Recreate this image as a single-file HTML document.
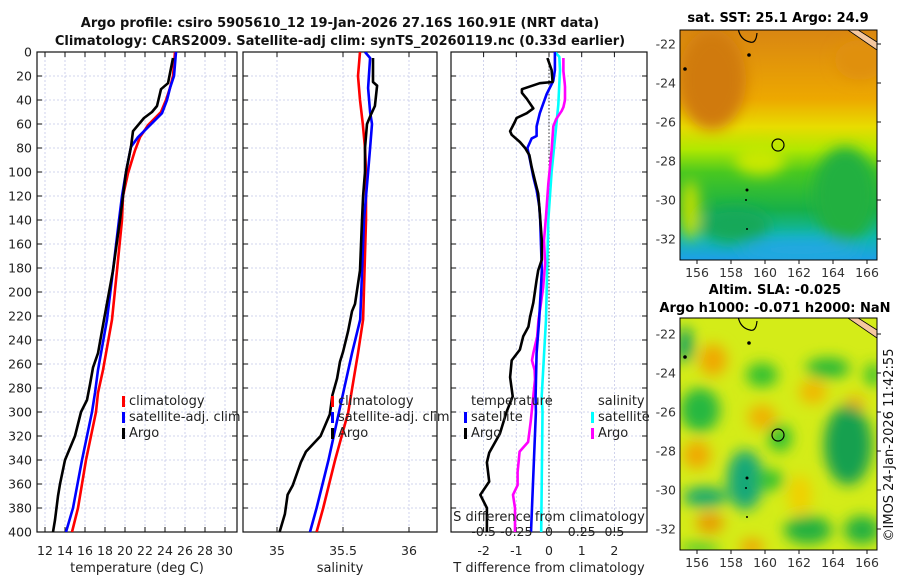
<!DOCTYPE html>
<html><head><meta charset="utf-8">
<style>
html,body{margin:0;padding:0;background:#fff;}
svg{display:block;font-family:"DejaVu Sans","Liberation Sans",sans-serif;}
</style></head>
<body>
<svg id="fig" width="900" height="580" viewBox="0 0 900 580" xmlns="http://www.w3.org/2000/svg">
<defs>
 <clipPath id="c1"><rect x="37" y="52" width="200" height="480"/></clipPath>
 <clipPath id="c2"><rect x="243" y="52" width="194" height="480"/></clipPath>
 <clipPath id="c3"><rect x="451" y="52" width="196" height="480"/></clipPath>
 <clipPath id="cm1"><rect x="680" y="30" width="197" height="230"/></clipPath>
 <clipPath id="cm2"><rect x="680" y="318" width="197" height="232"/></clipPath>
 <filter id="blur" x="-50%" y="-50%" width="200%" height="200%"><feGaussianBlur stdDeviation="7"/></filter>
 <linearGradient id="sstg" x1="0" y1="0" x2="0" y2="1">
  <stop offset="0" stop-color="#d98612"/><stop offset="0.3" stop-color="#eda800"/>
  <stop offset="0.42" stop-color="#e8dc00"/><stop offset="0.52" stop-color="#b0e800"/>
  <stop offset="0.62" stop-color="#48c820"/><stop offset="0.78" stop-color="#18b048"/>
  <stop offset="0.9" stop-color="#10b8b0"/><stop offset="1" stop-color="#1ea0e8"/>
 </linearGradient>
</defs>

<g font-weight="bold" font-size="13" text-anchor="middle" fill="#111">
 <text x="340" y="27">Argo profile: csiro 5905610_12 19-Jan-2026 27.16S 160.91E (NRT data)</text>
 <text x="340" y="45">Climatology: CARS2009. Satellite-adj clim: synTS_20260119.nc (0.33d earlier)</text>
</g>

<g id="panels"></g>

<g>
 <text x="778" y="22" font-size="13" font-weight="bold" text-anchor="middle">sat. SST: 25.1 Argo: 24.9</text>
 <g clip-path="url(#cm1)">
  <rect x="680" y="30" width="197" height="230" fill="url(#sstg)"/>
  <g filter="url(#blur)">
   <ellipse cx="712" cy="80" rx="34" ry="50" fill="#d07a10"/>
   <ellipse cx="860" cy="60" rx="25" ry="20" fill="#e09010"/>
   <ellipse cx="845" cy="195" rx="32" ry="48" fill="#20b040"/>
   <ellipse cx="690" cy="210" rx="10" ry="30" fill="#c0e000"/>
   <ellipse cx="735" cy="225" rx="35" ry="18" fill="#18a858"/>
   <ellipse cx="760" cy="160" rx="25" ry="15" fill="#c8e800"/>
   <ellipse cx="800" cy="250" rx="60" ry="12" fill="#20a8e0"/>
  </g>
  <path d="M738 28 Q740 40 750 42 Q756 44 757 33" fill="none" stroke="#000" stroke-width="1.2"/>
  <path d="M845 28 L877 50 L877 42 L855 28 Z" fill="#f5c8a0" stroke="#000" stroke-width="0.8"/>
  <circle cx="685" cy="69" r="1.8" fill="#000"/><circle cx="749" cy="55" r="1.8" fill="#000"/>
  <circle cx="747" cy="190" r="1.5" fill="#000"/><circle cx="746" cy="200" r="1" fill="#000"/><circle cx="747" cy="229" r="1" fill="#000"/>
 </g>
 <rect x="680" y="30" width="197" height="230" fill="none" stroke="#000" stroke-width="1"/>
 <g id="map1axes"></g>
 <circle cx="778" cy="145" r="6" fill="none" stroke="#000" stroke-width="1.2"/>
</g>

<g>
 <text x="775" y="294" font-size="13" font-weight="bold" text-anchor="middle">Altim. SLA: -0.025</text>
 <text x="775" y="312" font-size="13" font-weight="bold" text-anchor="middle">Argo h1000: -0.071 h2000: NaN</text>
 <g clip-path="url(#cm2)">
  <rect x="680" y="318" width="197" height="232" fill="#d4ec18"/>
  <g filter="url(#blur)">
   <ellipse cx="713" cy="360" rx="14" ry="16" fill="#f0a800"/>
   <ellipse cx="762" cy="417" rx="14" ry="12" fill="#f0b000"/>
   <ellipse cx="813" cy="392" rx="14" ry="12" fill="#f0b800"/>
   <ellipse cx="855" cy="403" rx="10" ry="8" fill="#f0b000"/>
   <ellipse cx="697" cy="455" rx="14" ry="14" fill="#f0a800"/>
   <ellipse cx="710" cy="523" rx="14" ry="10" fill="#e89800"/>
   <ellipse cx="752" cy="547" rx="12" ry="8" fill="#f0a000"/>
   <ellipse cx="800" cy="495" rx="12" ry="20" fill="#f0d000"/>
   <ellipse cx="685" cy="345" rx="8" ry="18" fill="#10a060"/>
   <ellipse cx="762" cy="375" rx="16" ry="12" fill="#30c030"/>
   <ellipse cx="828" cy="368" rx="22" ry="10" fill="#28b838"/>
   <ellipse cx="873" cy="375" rx="8" ry="12" fill="#30c030"/>
   <ellipse cx="700" cy="410" rx="20" ry="22" fill="#28b840"/>
   <ellipse cx="848" cy="445" rx="24" ry="40" fill="#18a050"/>
   <ellipse cx="780" cy="438" rx="12" ry="14" fill="#30c030"/>
   <ellipse cx="745" cy="480" rx="18" ry="30" fill="#18a878"/>
   <ellipse cx="770" cy="480" rx="14" ry="10" fill="#30c030"/>
   <ellipse cx="705" cy="497" rx="22" ry="10" fill="#18a870"/>
   <ellipse cx="808" cy="530" rx="24" ry="14" fill="#20b040"/>
   <ellipse cx="862" cy="530" rx="18" ry="14" fill="#20b040"/>
   <ellipse cx="700" cy="548" rx="20" ry="5" fill="#30c030"/>
  </g>
  <path d="M738 316 Q740 328 750 330 Q756 332 757 321" fill="none" stroke="#000" stroke-width="1.2"/>
  <path d="M845 316 L877 338 L877 330 L855 316 Z" fill="#f5c8a0" stroke="#000" stroke-width="0.8"/>
  <circle cx="685" cy="357" r="1.8" fill="#000"/><circle cx="749" cy="343" r="1.8" fill="#000"/>
  <circle cx="747" cy="478" r="1.5" fill="#000"/><circle cx="746" cy="488" r="1" fill="#000"/><circle cx="747" cy="517" r="1" fill="#000"/>
 </g>
 <rect x="680" y="318" width="197" height="232" fill="none" stroke="#000" stroke-width="1"/>
 <g id="map2axes"></g>
 <circle cx="778" cy="435" r="6" fill="none" stroke="#000" stroke-width="1.2"/>
</g>

<text transform="translate(893,445) rotate(-90)" font-size="13" text-anchor="middle" fill="#111">©IMOS 24-Jan-2026 11:42:55</text>
</svg>

<script>
const depthTicks = [0,20,40,60,80,100,120,140,160,180,200,220,240,260,280,300,320,340,360,380,400];
const tempTicks = [12,14,16,18,20,22,24,26,28,30];
const salTicks = [35, 35.5, 36];
const salTickLabels = ["35","35.5","36"];
const tdiffTicks = [-2,-1,0,1,2];
const sdiffTicks = [-0.5,-0.25,0,0.25,0.5];
const sdiffTickLabels = ["-0.5","-0.25","0","0.25","0.5"];

const tClimDepth = [0,20,30,40,50,61,71,82,101,120,140,182,223,265,284,300,340,380,400];
const tClimVal   = [25.0,24.8,24.5,24.1,23.6,22.3,21.5,21.0,20.3,19.8,19.7,19.2,18.7,17.8,17.3,17.1,16.1,15.3,14.7];
const tSatDepth  = [0,20,30,40,51,61,71,79,100,120,140,182,223,265,284,300,340,380,400];
const tSatVal    = [25.1,24.9,24.5,24.2,23.7,22.5,21.3,20.6,20.1,19.7,19.4,18.8,18.2,17.3,17.0,16.7,15.7,14.8,14.1];
const tArgoDepth = [5,26,31,45,50,55,66,79,100,120,140,182,223,251,263,277,290,300,320,340,360,370,390,400];
const tArgoVal   = [24.8,24.3,23.6,23.2,22.7,21.9,20.8,20.6,20.1,19.8,19.5,18.8,17.9,17.3,16.8,16.5,16.2,15.6,15.0,14.0,13.5,13.3,13.0,12.8];

const sClimDepth = [0,20,40,60,80,100,140,223,251,280,300,340,380,400];
const sClimVal   = [35.629,35.614,35.629,35.65,35.667,35.674,35.674,35.652,35.614,35.57,35.54,35.44,35.35,35.30];
const sSatDepth  = [0,5,30,50,60,80,100,140,223,251,280,300,340,380,400];
const sSatVal    = [35.667,35.705,35.69,35.705,35.72,35.705,35.69,35.659,35.63,35.568,35.51,35.47,35.39,35.30,35.25];
const sArgoDepth = [5,25,28,45,52,60,80,100,120,140,182,210,216,233,250,258,272,286,302,320,333,342,361,369,385,400];
const sArgoVal   = [35.727,35.727,35.758,35.742,35.712,35.682,35.667,35.667,35.652,35.644,35.629,35.591,35.568,35.538,35.50,35.477,35.455,35.42,35.40,35.33,35.22,35.18,35.12,35.08,35.06,35.02];

const dtSatDepth = [0,15,24,35,51,62,70,72,80,90,104,115,128,140,182,223,251,287,300,400];
const dtSatVal   = [0.18,0.18,0.13,-0.07,-0.28,-0.38,-0.38,-0.53,-0.66,-0.58,-0.48,-0.38,-0.30,-0.27,-0.22,-0.30,-0.38,-0.41,-0.40,-0.55];
const dtArgoDepth = [5,15,25,26,31,34,39,47,51,55,58,66,69,75,80,86,96,107,118,134,157,173,182,190,209,221,229,237,248,257,271,287,300,318,334,342,358,369,380,400];
const dtArgoVal   = [-0.05,0.08,0.11,-0.28,-0.83,-0.83,-0.68,-0.48,-0.68,-0.99,-1.04,-1.19,-1.14,-0.89,-0.73,-0.60,-0.53,-0.43,-0.33,-0.28,-0.22,-0.22,-0.33,-0.38,-0.48,-0.58,-0.63,-0.79,-0.89,-1.14,-1.19,-1.11,-1.3,-1.5,-1.83,-1.9,-1.83,-2.1,-1.9,-1.9];
const dsSatDepth = [0,4,15,44,72,100,140,223,287,300,400];
const dsSatVal   = [0.046,0.079,0.084,0.071,0.046,0.02,-0.005,-0.023,-0.056,-0.05,-0.06];
const dsArgoDepth = [5,16,26,29,40,46,49,56,62,82,110,137,157,176,196,215,223,237,251,257,265,273,308,325,333,350,361,369,380,400];
const dsArgoVal   = [0.11,0.11,0.12,0.122,0.122,0.11,0.097,0.054,0.033,0.02,-0.005,-0.023,-0.038,-0.03,-0.044,-0.069,-0.08,-0.09,-0.12,-0.13,-0.11,-0.107,-0.14,-0.16,-0.225,-0.24,-0.24,-0.275,-0.26,-0.26];

const lonTicks = [156,158,160,162,164,166];
const latTicks = [-22,-24,-26,-28,-30,-32];

const NS = "http://www.w3.org/2000/svg";
const yD = d => 52 + d * 1.2;
const xT = t => 45 + (t - 12) * 10;
const xS = s => 277 + (s - 35) * 132;
const xDT = v => 549 + v * 32.7;
const xDS = v => 549 + v * 130.8;
const lonX = lon => 765 + (lon - 160) * 17;
const latY1 = lat => 122 + (-26 - lat) * 19.5;
const latY2 = lat => 412 + (-26 - lat) * 19.5;
const LW = 2.6;

function mk(tag, attrs, parent) {
  const e = document.createElementNS(NS, tag);
  for (const k in attrs) e.setAttribute(k, attrs[k]);
  parent.appendChild(e);
  return e;
}
function txt(str, attrs, parent) { const e = mk('text', attrs, parent); e.textContent = str; return e; }

const root = document.getElementById('panels');

function panel(name, x0, w, clip, xTicksPos, xTickLabels, xlabel, xlabelX, showDepthLabels) {
  const g = mk('g', {}, root);
  
  
  const grid = mk('g', {stroke: '#c4c8e8', 'stroke-width': 0.8, 'stroke-dasharray': '2,2'}, g);
  
  
  depthTicks.forEach(d => mk('line', {x1: x0, x2: x0 + w, y1: yD(d), y2: yD(d)}, grid));
  xTicksPos.forEach(px => mk('line', {x1: px, x2: px, y1: 52, y2: 532}, grid));
  mk('rect', {x: x0, y: 52, width: w, height: 480, fill: 'none', stroke: '#111', 'stroke-width': 1.2}, g);
  const ticks = mk('g', {stroke: '#111', 'stroke-width': 1}, g);
  depthTicks.forEach(d => {
    mk('line', {x1: x0, x2: x0 + 5, y1: yD(d), y2: yD(d)}, ticks);
    mk('line', {x1: x0 + w - 5, x2: x0 + w, y1: yD(d), y2: yD(d)}, ticks);
  });
  xTicksPos.forEach(px => {
    mk('line', {x1: px, x2: px, y1: 532, y2: 527}, ticks);
    mk('line', {x1: px, x2: px, y1: 52, y2: 57}, ticks);
  });
  const tl = mk('g', {'font-size': 12.5, fill: '#222', 'text-anchor': 'middle'}, g);
  
  
  xTicksPos.forEach((px, i) => txt(xTickLabels[i], {x: px, y: 555}, tl));
  const xl = txt(xlabel, {x: xlabelX, y: 572, 'font-size': 13, 'text-anchor': 'middle', fill: '#222'}, g);
  
  
  if (showDepthLabels) {
    const yl = mk('g', {'font-size': 12.5, fill: '#222', 'text-anchor': 'end'}, g);
    
    
    depthTicks.forEach(d => txt(String(d), {x: 32, y: yD(d) + 4.5}, yl));
  }
  return mk('g', {'clip-path': 'url(#' + clip + ')'}, g);
}

function line(parent, name, depths, vals, xf, color) {
  const pts = depths.map((d, i) => xf(vals[i]).toFixed(1) + ',' + yD(d).toFixed(1)).join(' ');
  const p = mk('polyline', {points: pts, fill: 'none', stroke: color, 'stroke-width': LW, 'stroke-linejoin': 'round'}, parent);
  
  
}

function legend(parent, name, x, y, items) {
  const g = mk('g', {'font-size': 13, fill: '#222'}, parent);
  
  
  items.forEach((it, i) => {
    if (it[1]) mk('rect', {x: x, y: y + i * 16 - 9, width: 3, height: 11, fill: it[1]}, g);
    txt(it[0], {x: x + 7, y: y + i * 16}, g);
  });
}

const p1 = panel('temperature-panel', 37, 200, 'c1', tempTicks.map(xT), tempTicks.map(String), 'temperature (deg C)', 137, true);
line(p1, 'temp-climatology-line', tClimDepth, tClimVal, xT, '#ff0000');
line(p1, 'temp-satellite-line', tSatDepth, tSatVal, xT, '#0000ff');
line(p1, 'temp-argo-line', tArgoDepth, tArgoVal, xT, '#000000');
legend(root, 'temperature-legend', 122, 405, [['climatology', '#ff0000'], ['satellite-adj. clim', '#0000ff'], ['Argo', '#000']]);

const p2 = panel('salinity-panel', 243, 194, 'c2', salTicks.map(xS), salTickLabels, 'salinity', 340, false);
line(p2, 'sal-climatology-line', sClimDepth, sClimVal, xS, '#ff0000');
line(p2, 'sal-satellite-line', sSatDepth, sSatVal, xS, '#0000ff');
line(p2, 'sal-argo-line', sArgoDepth, sArgoVal, xS, '#000000');
legend(root, 'salinity-legend', 331, 405, [['climatology', '#ff0000'], ['satellite-adj. clim', '#0000ff'], ['Argo', '#000']]);

const p3 = panel('difference-panel', 451, 196, 'c3', tdiffTicks.map(xDT), tdiffTicks.map(String), 'T difference from climatology', 549, false);
const zl = mk('line', {x1: xDT(0), x2: xDT(0), y1: 52, y2: 532, stroke: '#333', 'stroke-width': 1, 'stroke-dasharray': '1.5,2'}, p3);


line(p3, 'sdiff-satellite-line', dsSatDepth, dsSatVal, xDS, '#00ffff');
line(p3, 'sdiff-argo-line', dsArgoDepth, dsArgoVal, xDS, '#ff00ff');
line(p3, 'tdiff-satellite-line', dtSatDepth, dtSatVal, xDT, '#0000ff');
line(p3, 'tdiff-argo-line', dtArgoDepth, dtArgoVal, xDT, '#000000');
legend(root, 'tdiff-legend', 464, 405, [['temperature', null], ['satellite', '#0000ff'], ['Argo', '#000']]);
legend(root, 'sdiff-legend', 591, 405, [['salinity', null], ['satellite', '#00ffff'], ['Argo', '#ff00ff']]);
const sl = txt('S difference from climatology', {x: 549, y: 521, 'font-size': 13, 'text-anchor': 'middle', fill: '#222'}, root);


const sdl = mk('g', {'font-size': 12.5, fill: '#222', 'text-anchor': 'middle'}, root);


sdiffTicks.forEach((v, i) => txt(sdiffTickLabels[i], {x: xDS(v), y: 536}, sdl));

function mapAxes(id, y0, y1, latY) {
  const g = document.getElementById(id);
  
  
  lonTicks.forEach(lon => {
    mk('line', {x1: lonX(lon), x2: lonX(lon), y1: y1, y2: y1 + 4, stroke: '#111'}, g);
    txt(String(lon), {x: lonX(lon), y: y1 + 17, 'font-size': 12.5, 'text-anchor': 'middle', fill: '#333'}, g);
  });
  latTicks.forEach(lat => {
    mk('line', {x1: 877, x2: 881, y1: latY(lat), y2: latY(lat), stroke: '#111'}, g);
    txt(String(lat), {x: 676, y: latY(lat) + 4.5, 'font-size': 12.5, 'text-anchor': 'end', fill: '#333'}, g);
  });
}
mapAxes('map1axes', 30, 260, latY1);
mapAxes('map2axes', 318, 550, latY2);
</script>
</body></html>
